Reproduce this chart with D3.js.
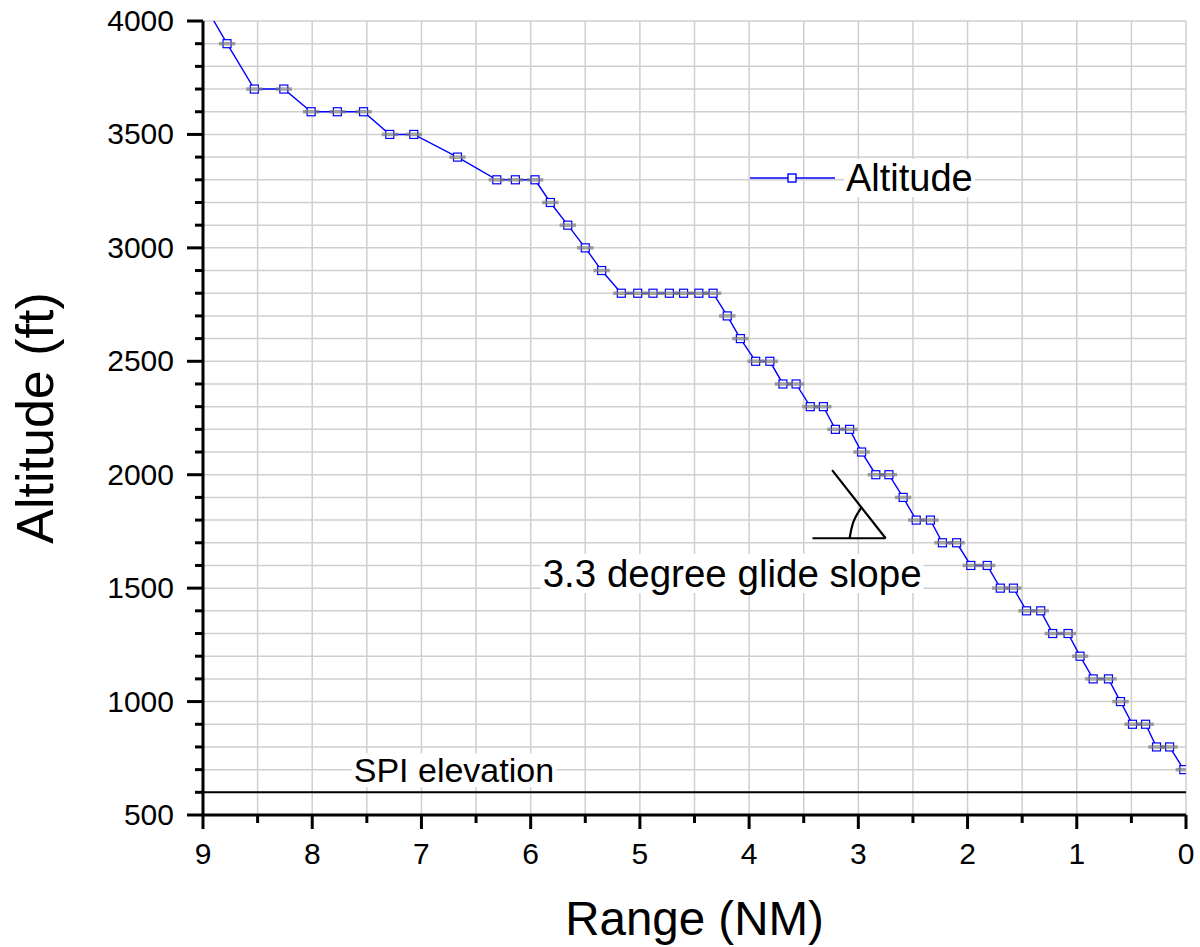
<!DOCTYPE html>
<html>
<head>
<meta charset="utf-8">
<script src="https://cdn.jsdelivr.net/npm/d3@7"></script>
<style>
  body { margin: 0; background: #fff; }
  text { font-family: "Liberation Sans", Arial, sans-serif; fill: #000; }
</style>
</head>
<body>
<div id="frame"></div>
<script>
// data
const rangeNM = [9.02, 8.78, 8.53, 8.26, 8.01, 7.77, 7.53, 7.29, 7.07, 6.67,
  6.31, 6.14, 5.96, 5.82, 5.66, 5.50, 5.35, 5.17, 5.02, 4.88,
  4.73, 4.60, 4.46, 4.33, 4.20, 4.08, 3.94, 3.81, 3.69, 3.57,
  3.44, 3.32, 3.21, 3.08, 2.97, 2.84, 2.72, 2.59, 2.47, 2.34,
  2.23, 2.10, 1.97, 1.82, 1.70, 1.58, 1.46, 1.33, 1.22, 1.08,
  0.97, 0.85, 0.71, 0.60, 0.49, 0.37, 0.27, 0.15, 0.02];
const altitudeFt = [4100, 3900, 3700, 3700, 3600, 3600, 3600, 3500, 3500, 3400,
  3300, 3300, 3300, 3200, 3100, 3000, 2900, 2800, 2800, 2800,
  2800, 2800, 2800, 2800, 2700, 2600, 2500, 2500, 2400, 2400,
  2300, 2300, 2200, 2200, 2100, 2000, 2000, 1900, 1800, 1800,
  1700, 1700, 1600, 1600, 1500, 1500, 1400, 1400, 1300, 1300,
  1200, 1100, 1100, 1000, 900, 900, 800, 800, 700];
const rangeError = 0.075; // half width of the gray range bars
const xTicks = [9, 8, 7, 6, 5, 4, 3, 2, 1, 0];
const yTicks = [500, 1000, 1500, 2000, 2500, 3000, 3500, 4000];
const spiElevation = 600;
// glide slope sketch (range, altitude)
const slopeLine = [[3.24, 2020], [2.75, 1720]];
const baseLine = [[3.42, 1720], [2.75, 1720]];
const anglePath = [[3.08, 1720], [3.05, 1800], [2.97, 1857]];

const width = 1200, height = 947;
const margin = { top: 21, right: 14, bottom: 132, left: 203 };

const svg = d3.select("#frame").append("svg")
  .attr("width", width).attr("height", height);

const x = d3.scaleLinear().domain([9, 0]).range([margin.left, width - margin.right]);
const y = d3.scaleLinear().domain([500, 4000]).range([height - margin.bottom, margin.top]);

svg.append("defs").append("clipPath").attr("id", "plotclip")
  .append("rect")
  .attr("x", margin.left).attr("y", margin.top)
  .attr("width", x(0) - x(9)).attr("height", y(500) - y(4000));

// grid
const grid = svg.append("g").attr("stroke", "#cfcfcf").attr("stroke-width", 1.5);
grid.selectAll("line.v").data(d3.range(0, 9, 0.5)).join("line")
  .attr("x1", d => x(d)).attr("x2", d => x(d))
  .attr("y1", y(500)).attr("y2", y(4000));
grid.selectAll("line.h").data(d3.range(600, 4001, 100)).join("line")
  .attr("x1", x(9)).attr("x2", x(0))
  .attr("y1", d => y(d)).attr("y2", d => y(d));

// SPI elevation line
svg.append("line")
  .attr("x1", x(9)).attr("x2", x(0))
  .attr("y1", y(spiElevation)).attr("y2", y(spiElevation))
  .attr("stroke", "#000").attr("stroke-width", 2);

// label backgrounds + labels
function boxedText(tx, ty, str, size) {
  const t = svg.append("text").attr("x", tx).attr("y", ty)
    .attr("font-size", size).text(str);
  const b = t.node().getBBox();
  svg.insert("rect", function () { return t.node(); })
    .attr("x", b.x - 2).attr("y", b.y + 2)
    .attr("width", b.width + 4).attr("height", b.height - 4)
    .attr("fill", "#fff");
  return t;
}
boxedText(x(7.62), y(spiElevation) - 10, "SPI elevation", 34);
boxedText(x(5.89), y(1505), "3.3 degree glide slope", 38.5);

// glide slope symbol
const gline = d3.line().x(d => x(d[0])).y(d => y(d[1]));
const gs = svg.append("g").attr("fill", "none").attr("stroke", "#000").attr("stroke-width", 2.2);
gs.append("path").attr("d", gline(slopeLine));
gs.append("path").attr("d", gline(baseLine));
gs.append("path").attr("d", gline.curve(d3.curveBasis)(anglePath));

// series
const pts = rangeNM.map((r, i) => ({ r, a: altitudeFt[i] }));
const plot = svg.append("g").attr("clip-path", "url(#plotclip)");
plot.append("path")
  .attr("d", d3.line().x(d => x(d.r)).y(d => y(d.a))(pts))
  .attr("fill", "none").attr("stroke", "#0000ff").attr("stroke-width", 1.4);
plot.selectAll("rect.m").data(pts).join("rect")
  .attr("x", d => x(d.r) - 4).attr("y", d => y(d.a) - 4)
  .attr("width", 8).attr("height", 8)
  .attr("fill", "#fff").attr("stroke", "#0000ff").attr("stroke-width", 1.2);
plot.selectAll("line.e").data(pts).join("line")
  .attr("x1", d => x(d.r + rangeError)).attr("x2", d => x(d.r - rangeError))
  .attr("y1", d => y(d.a)).attr("y2", d => y(d.a))
  .attr("stroke", "#7a7a7a").attr("stroke-opacity", 0.7).attr("stroke-width", 3.5);

// axes
const xAxis = svg.append("g").attr("transform", `translate(0,${y(500)})`);
xAxis.append("line").attr("x1", x(9) - 1.5).attr("x2", x(0)).attr("stroke", "#000").attr("stroke-width", 3);
xAxis.selectAll("line.minor").data(d3.range(0.5, 9, 1)).join("line")
  .attr("x1", d => x(d)).attr("x2", d => x(d)).attr("y1", 0).attr("y2", 8)
  .attr("stroke", "#000").attr("stroke-width", 3);
xAxis.selectAll("line.major").data(xTicks).join("line")
  .attr("x1", d => x(d)).attr("x2", d => x(d)).attr("y1", 0).attr("y2", 14)
  .attr("stroke", "#000").attr("stroke-width", 3);
xAxis.selectAll("text").data(xTicks).join("text")
  .attr("x", d => x(d)).attr("y", 49)
  .attr("text-anchor", "middle").attr("font-size", 30).text(d => d);

const yAxis = svg.append("g").attr("transform", `translate(${x(9)},0)`);
yAxis.append("line").attr("y1", y(500)).attr("y2", y(4000)).attr("stroke", "#000").attr("stroke-width", 3);
yAxis.selectAll("line.minor").data(d3.range(600, 4000, 100).filter(d => d % 500)).join("line")
  .attr("x1", -8).attr("x2", 0).attr("y1", d => y(d)).attr("y2", d => y(d))
  .attr("stroke", "#000").attr("stroke-width", 3);
yAxis.selectAll("line.major").data(yTicks).join("line")
  .attr("x1", -16).attr("x2", 0).attr("y1", d => y(d)).attr("y2", d => y(d))
  .attr("stroke", "#000").attr("stroke-width", 3);
yAxis.selectAll("text").data(yTicks).join("text")
  .attr("x", -29).attr("y", d => y(d) + 10)
  .attr("text-anchor", "end").attr("font-size", 30).text(d => d);

// axis titles
svg.append("text").attr("x", (x(9) + x(0)) / 2).attr("y", 935)
  .attr("text-anchor", "middle").attr("font-size", 47.5).text("Range (NM)");
svg.append("text").attr("transform", `translate(53,${(y(500) + y(4000)) / 2}) rotate(-90)`)
  .attr("text-anchor", "middle").attr("font-size", 52).text("Altitude (ft)");

// legend
const lg = svg.append("g");
boxedText(846, 191, "Altitude", 38);
lg.append("line").attr("x1", 750).attr("x2", 835).attr("y1", 178).attr("y2", 178)
  .attr("stroke", "#0000ff").attr("stroke-width", 1.4);
lg.append("rect").attr("x", 788).attr("y", 174).attr("width", 8).attr("height", 8)
  .attr("fill", "#fff").attr("stroke", "#0000ff").attr("stroke-width", 1.4);
</script>
</body>
</html>
